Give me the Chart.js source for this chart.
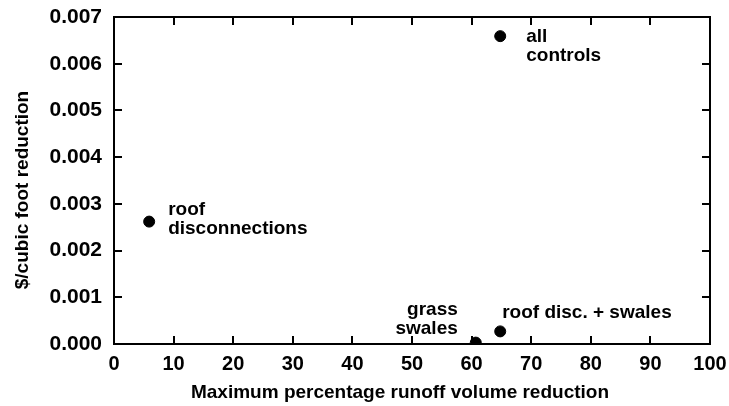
<!DOCTYPE html>
<html>
<head>
<meta charset="utf-8">
<script src="https://cdn.jsdelivr.net/npm/chart.js@4/dist/chart.umd.min.js"></script>
<style>
  html, body { margin: 0; padding: 0; background: #fff; }
  #wrap { width: 729px; height: 406px; }
</style>
</head>
<body>
<div id="wrap"><canvas id="chart" width="729" height="406"></canvas></div>
<script>
// data
const labels = [['all', 'controls'], ['roof', 'disconnections'], ['grass', 'swales'], ['roof disc. + swales']];
const runoffReduction = [64.8, 5.9, 60.7, 64.8];
const costPerCubicFoot = [0.00659, 0.00262, 0.00003, 0.00027];
const xTicks = [0, 10, 20, 30, 40, 50, 60, 70, 80, 90, 100];
const yTicks = [0.000, 0.001, 0.002, 0.003, 0.004, 0.005, 0.006, 0.007];
const xTitle = 'Maximum percentage runoff volume reduction';
const yTitle = '$/cubic foot reduction';

const FONT = '"Liberation Sans", Arial, Helvetica, sans-serif';

// label placement relative to each point (pixels), and alignment
const labelStyle = [
    { dx: 26, dy: 1, align: 'left' },
    { dx: 19, dy: -12, align: 'left' },
    { dx: -18, dy: -33, align: 'right' },
    { dx: 2, dy: -19, align: 'left' }
];

// draws frame, inward ticks on all four sides, axis titles and point labels
const framePlugin = {
    id: 'frame',
    afterDraw(chart) {
        const ctx = chart.ctx;
        const a = chart.chartArea;
        const xs = chart.scales.x, ys = chart.scales.y;
        const tick = 8;
        ctx.save();
        ctx.strokeStyle = '#000';
        ctx.lineWidth = 2;
        ctx.strokeRect(a.left, a.top, a.right - a.left, a.bottom - a.top);
        ctx.beginPath();
        xTicks.forEach(v => {
            const px = Math.round(xs.getPixelForValue(v));
            ctx.moveTo(px, a.bottom); ctx.lineTo(px, a.bottom - tick);
            ctx.moveTo(px, a.top); ctx.lineTo(px, a.top + tick);
        });
        yTicks.forEach(v => {
            const py = Math.round(ys.getPixelForValue(v));
            ctx.moveTo(a.left, py); ctx.lineTo(a.left + tick, py);
            ctx.moveTo(a.right, py); ctx.lineTo(a.right - tick, py);
        });
        ctx.stroke();

        // axis titles
        ctx.fillStyle = '#000';
        ctx.font = 'bold 19px ' + FONT;
        ctx.textAlign = 'center';
        ctx.textBaseline = 'middle';
        ctx.fillText(xTitle, 400, 393);
        ctx.save();
        ctx.translate(23, 190);
        ctx.rotate(-Math.PI / 2);
        ctx.fillText(yTitle, 0, 0);
        ctx.restore();

        // point labels
        const meta = chart.getDatasetMeta(0);
        ctx.font = 'bold 19px ' + FONT;
        meta.data.forEach((pt, i) => {
            const s = labelStyle[i];
            ctx.textAlign = s.align;
            labels[i].forEach((line, j) => {
                ctx.fillText(line, pt.x + s.dx, pt.y + s.dy + j * 19);
            });
        });
        ctx.restore();
    }
};

new Chart(document.getElementById('chart'), {
    type: 'scatter',
    data: {
        datasets: [{
            data: runoffReduction.map((x, i) => ({ x: x, y: costPerCubicFoot[i] })),
            backgroundColor: '#000',
            borderColor: '#000',
            pointRadius: 5.5,
            pointHoverRadius: 5.5
        }]
    },
    options: {
        responsive: false,
        devicePixelRatio: 1,
        animation: false,
        events: [],
        layout: { padding: { left: 0, right: 19, top: 17, bottom: 0 } },
        plugins: { legend: { display: false }, tooltip: { enabled: false } },
        scales: {
            x: {
                type: 'linear',
                min: 0,
                max: 100,
                afterFit: s => { s.height = 62; s.paddingLeft = 0; s.paddingRight = 0; },
                afterBuildTicks: s => { s.ticks = xTicks.map(v => ({ value: v })); },
                grid: { display: false, drawTicks: false, tickLength: 0 },
                border: { display: false },
                ticks: {
                    color: '#000',
                    padding: 8,
                    maxRotation: 0,
                    autoSkip: false,
                    font: { family: FONT, size: 20, weight: 'bold' }
                }
            },
            y: {
                type: 'linear',
                min: 0,
                max: 0.007,
                afterFit: s => { s.width = 114; s.paddingTop = 0; s.paddingBottom = 0; },
                afterBuildTicks: s => { s.ticks = yTicks.map(v => ({ value: v })); },
                grid: { display: false, drawTicks: false, tickLength: 0 },
                border: { display: false },
                ticks: {
                    color: '#000',
                    padding: 12,
                    autoSkip: false,
                    font: { family: FONT, size: 21, weight: 'bold' },
                    callback: v => v.toFixed(3)
                }
            }
        }
    },
    plugins: [framePlugin]
});
</script>
</body>
</html>
